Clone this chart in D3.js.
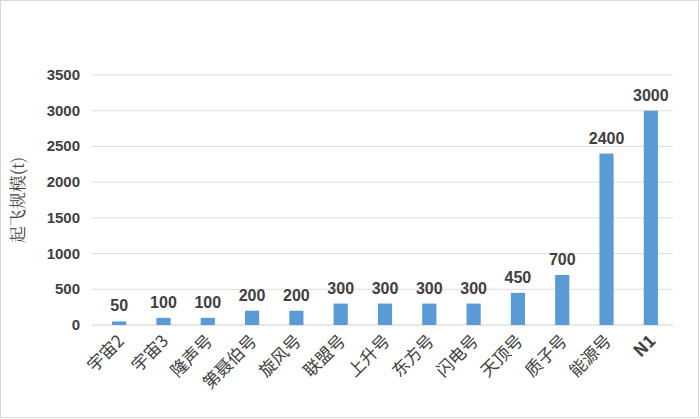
<!DOCTYPE html>
<html><head><meta charset="utf-8">
<script src="https://cdn.jsdelivr.net/npm/d3@7"></script>
<style>body{margin:0;background:#fff}</style>
</head><body>
<svg id="c" width="700" height="419"></svg>
<script>
const rockets = ['宇宙2','宇宙3','隆声号','第聂伯号','旋风号','联盟号','上升号','东方号','闪电号','天顶号','质子号','能源号','N1']
const takeoff = [50,100,100,200,200,300,300,300,300,450,700,2400,3000]
const yTicks = [0,500,1000,1500,2000,2500,3000,3500]

const svg = d3.select('#c')
svg.append('rect').attr('x',0.5).attr('y',0.5).attr('width',698).attr('height',417)
  .attr('fill','#fff').attr('stroke','#d9d9d9')

const x = d3.scaleBand().domain(rockets).range([97, 673]).paddingInner(0.68).paddingOuter(0.34)
const y = d3.scaleLinear().domain([0, 3500]).range([325, 75])

svg.append('g').selectAll('line').data(yTicks).join('line')
  .attr('x1', 92).attr('x2', 673).attr('y1', d => y(d)).attr('y2', d => y(d))
  .attr('stroke', d => d === 0 ? '#d0d0d0' : '#dcdcdc')

svg.append('g').selectAll('text').data(yTicks).join('text')
  .attr('x', 80).attr('y', d => y(d) + 5).attr('text-anchor','end')
  .attr('font-family','Arial, Liberation Sans, sans-serif').attr('font-size',15).attr('font-weight','bold').attr('fill','#404040')
  .text(d => d)

svg.append('g').selectAll('rect').data(rockets).join('rect')
  .attr('x', d => x(d)).attr('width', x.bandwidth())
  .attr('y', (d,i) => y(takeoff[i])).attr('height', (d,i) => y(0) - y(takeoff[i]))
  .attr('fill','#5b9bd5')

svg.append('g').selectAll('text').data(rockets).join('text')
  .attr('x', d => x(d) + x.bandwidth()/2).attr('y', (d,i) => y(takeoff[i]) - 10)
  .attr('text-anchor','middle')
  .attr('font-family','Arial, Liberation Sans, sans-serif').attr('font-size',16).attr('font-weight','bold').attr('fill','#404040')
  .text((d,i) => takeoff[i])

svg.append('g').selectAll('text').data(rockets).join('text')
  .attr('transform', d => `translate(${x(d) + x.bandwidth()/2 + 6},${342}) rotate(-45)`)
  .attr('text-anchor','end')
  .attr('font-family','Noto Sans CJK SC, sans-serif').attr('font-size',17).attr('font-weight', d => d === 'N1' ? 'bold' : 'normal').attr('fill','#404040')
  .text(d => d)

svg.append('text')
  .attr('transform', 'translate(24,200) rotate(-90)')
  .attr('text-anchor','middle')
  .attr('font-family','Noto Serif CJK SC, serif').attr('font-size',17).attr('fill','#404040')
  .text('起飞规模(t)')
</script>
</body></html>
